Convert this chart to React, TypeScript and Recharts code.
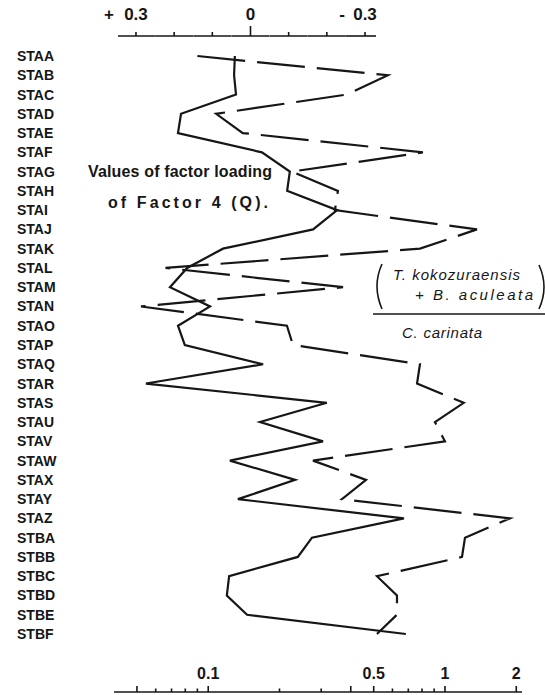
import React from 'react';
import { LineChart, Line, XAxis, YAxis } from 'recharts';

const stations = [
  'STAA', 'STAB', 'STAC', 'STAD', 'STAE', 'STAF', 'STAG', 'STAH', 'STAI', 'STAJ',
  'STAK', 'STAL', 'STAM', 'STAN', 'STAO', 'STAP', 'STAQ', 'STAR', 'STAS', 'STAU',
  'STAV', 'STAW', 'STAX', 'STAY', 'STAZ', 'STBA', 'STBB', 'STBC', 'STBD', 'STBE', 'STBF',
];

// factor loading of Factor 4 (Q), top axis
const factorLoading = [
  0.041, 0.043, 0.038, 0.182, 0.19, -0.03, -0.103, -0.096, -0.227, -0.164,
  0.072, 0.166, 0.211, 0.106, 0.19, 0.172, -0.033, 0.274, -0.2, -0.025,
  -0.19, 0.054, -0.117, 0.033, -0.402, -0.161, -0.124, 0.056, 0.062, 0.009, -0.407,
];

// (T. kokozuraensis + B. aculeata) / C. carinata, bottom log axis
const speciesRatio = [
  0.09, 0.574, 0.385, 0.108, 0.14, 0.807, 0.226, 0.353, 0.343, 1.365,
  0.784, 0.066, 0.371, 0.052, 0.215, 0.228, 0.784, 0.762, 1.2, 0.907,
  1.0, 0.277, 0.464, 0.367, 1.88, 1.215, 1.18, 0.516, 0.627, 0.627, 0.516,
];

const topTicks = [0.3, 0.2, 0.1, 0, -0.1, -0.2, -0.3];
const bottomTicks = [0.05, 0.06, 0.07, 0.08, 0.09, 0.1, 0.2, 0.3, 0.4, 0.5, 0.6, 0.7, 0.8, 0.9, 1, 2];
const bottomLabels: Record<string, string> = { '0.1': '0.1', '0.5': '0.5', '1': '1', '2': '2' };
const bottomMajor = [0.05, 0.1, 0.4, 0.5, 1, 2];

const data = stations.map((station, i) => ({
  station,
  loading: factorLoading[i],
  ratio: speciesRatio[i],
}));

const INK = '#161616';
const FONT = '"Liberation Sans", Arial, sans-serif';

const TopTick = (props: any) => {
  const { x, y, payload } = props;
  const v = payload.value;
  const left = v === 0.3 ? 18 : 19;
  const right = v === -0.3 ? 11 : 19;
  const h = v === 0 ? 10 : 4;
  const txt = { fontFamily: FONT, fontWeight: 'bold' as const, fontSize: 17, fill: INK };
  return (
    <g>
      <line x1={x - left} x2={x + right} y1={y} y2={y} stroke={INK} strokeWidth={1.6} />
      <line x1={x} x2={x} y1={y} y2={y - h} stroke={INK} strokeWidth={1.6} />
      {v === 0.3 && (
        <>
          <text x={x - 27} y={y - 16} textAnchor="middle" {...txt}>+</text>
          <text x={x} y={y - 16} textAnchor="middle" {...txt}>0.3</text>
        </>
      )}
      {v === 0 && <text x={x} y={y - 16} textAnchor="middle" {...txt}>0</text>}
      {v === -0.3 && (
        <>
          <text x={x - 23} y={y - 16} textAnchor="middle" {...txt}>-</text>
          <text x={x} y={y - 16} textAnchor="middle" {...txt}>0.3</text>
        </>
      )}
    </g>
  );
};

const BottomTick = (props: any) => {
  const { x, y, payload } = props;
  const v = payload.value;
  const h = bottomMajor.includes(v) ? 6 : 3.5;
  const label = bottomLabels[String(v)];
  return (
    <g>
      <line x1={x} x2={x} y1={y} y2={y - h} stroke={INK} strokeWidth={1.6} />
      {label && (
        <text x={x} y={y - 13} textAnchor="middle" fontFamily={FONT} fontWeight="bold" fontSize={16} fill={INK}>
          {label}
        </text>
      )}
    </g>
  );
};

const StationTick = (props: any) => {
  const { y, payload } = props;
  return (
    <text x={17} y={y} dy={5} fontFamily={FONT} fontWeight="bold" fontSize={14} fill={INK}>
      {payload.value}
    </text>
  );
};

export default function App() {
  return (
    <div style={{ position: 'absolute', left: 0, top: 0, width: 545, height: 695, background: '#fff' }}>
      <LineChart
        width={545}
        height={695}
        data={data}
        layout="vertical"
        margin={{ top: 0, right: 23, bottom: 0, left: 0 }}
      >
        <XAxis
          xAxisId="top"
          orientation="top"
          type="number"
          dataKey="loading"
          domain={[-0.7113, 0.3576]}
          reversed
          allowDataOverflow
          ticks={topTicks}
          interval={0}
          height={36}
          tickSize={0}
          tickMargin={0}
          axisLine={false}
          tickLine={false}
          tick={<TopTick />}
        />
        <XAxis
          xAxisId="bottom"
          orientation="bottom"
          type="number"
          scale="log"
          dataKey="ratio"
          domain={[0.04, 2.115]}
          allowDataOverflow
          ticks={bottomTicks}
          interval={0}
          height={3}
          tickSize={0}
          tickMargin={0}
          axisLine={{ stroke: INK, strokeWidth: 1.6 }}
          tickLine={false}
          tick={<BottomTick />}
        />
        <YAxis
          type="category"
          dataKey="station"
          scale="point"
          width={114}
          padding={{ top: 20, bottom: 58 }}
          axisLine={false}
          tickLine={false}
          interval={0}
          tick={<StationTick />}
        />
        <Line
          xAxisId="top"
          dataKey="loading"
          type="linear"
          stroke={INK}
          strokeWidth={2.2}
          dot={false}
          isAnimationActive={false}
        />
        <Line
          xAxisId="bottom"
          dataKey="ratio"
          type="linear"
          stroke={INK}
          strokeWidth={2.2}
          strokeDasharray="48 12"
          dot={false}
          isAnimationActive={false}
        />
      </LineChart>
      <svg
        width={545}
        height={695}
        style={{ position: 'absolute', left: 0, top: 0, pointerEvents: 'none' }}
      >
        <text x={88} y={177} fontFamily={FONT} fontWeight="bold" fontSize={16} fill={INK} textLength={184} lengthAdjust="spacing">
          Values of factor loading
        </text>
        <text x={108} y={208} fontFamily={FONT} fontWeight="bold" fontSize={16} fill={INK} textLength={160} lengthAdjust="spacing">
          of Factor 4 (Q).
        </text>
        <path d="M382,264 Q372,286 382,309" fill="none" stroke={INK} strokeWidth={1.6} />
        <path d="M539,265 Q549,287 539,309" fill="none" stroke={INK} strokeWidth={1.6} />
        <text x={393} y={280} fontFamily={FONT} fontStyle="italic" fontSize={15} fill={INK} textLength={127} lengthAdjust="spacing">
          T. kokozuraensis
        </text>
        <text x={415} y={300} fontFamily={FONT} fontStyle="italic" fontSize={15} fill={INK} textLength={118} lengthAdjust="spacing">
          + B. aculeata
        </text>
        <line x1={373} x2={545} y1={314} y2={314} stroke={INK} strokeWidth={1.6} />
        <text x={402} y={338} fontFamily={FONT} fontStyle="italic" fontSize={15} fill={INK} textLength={80} lengthAdjust="spacing">
          C. carinata
        </text>
      </svg>
    </div>
  );
}
